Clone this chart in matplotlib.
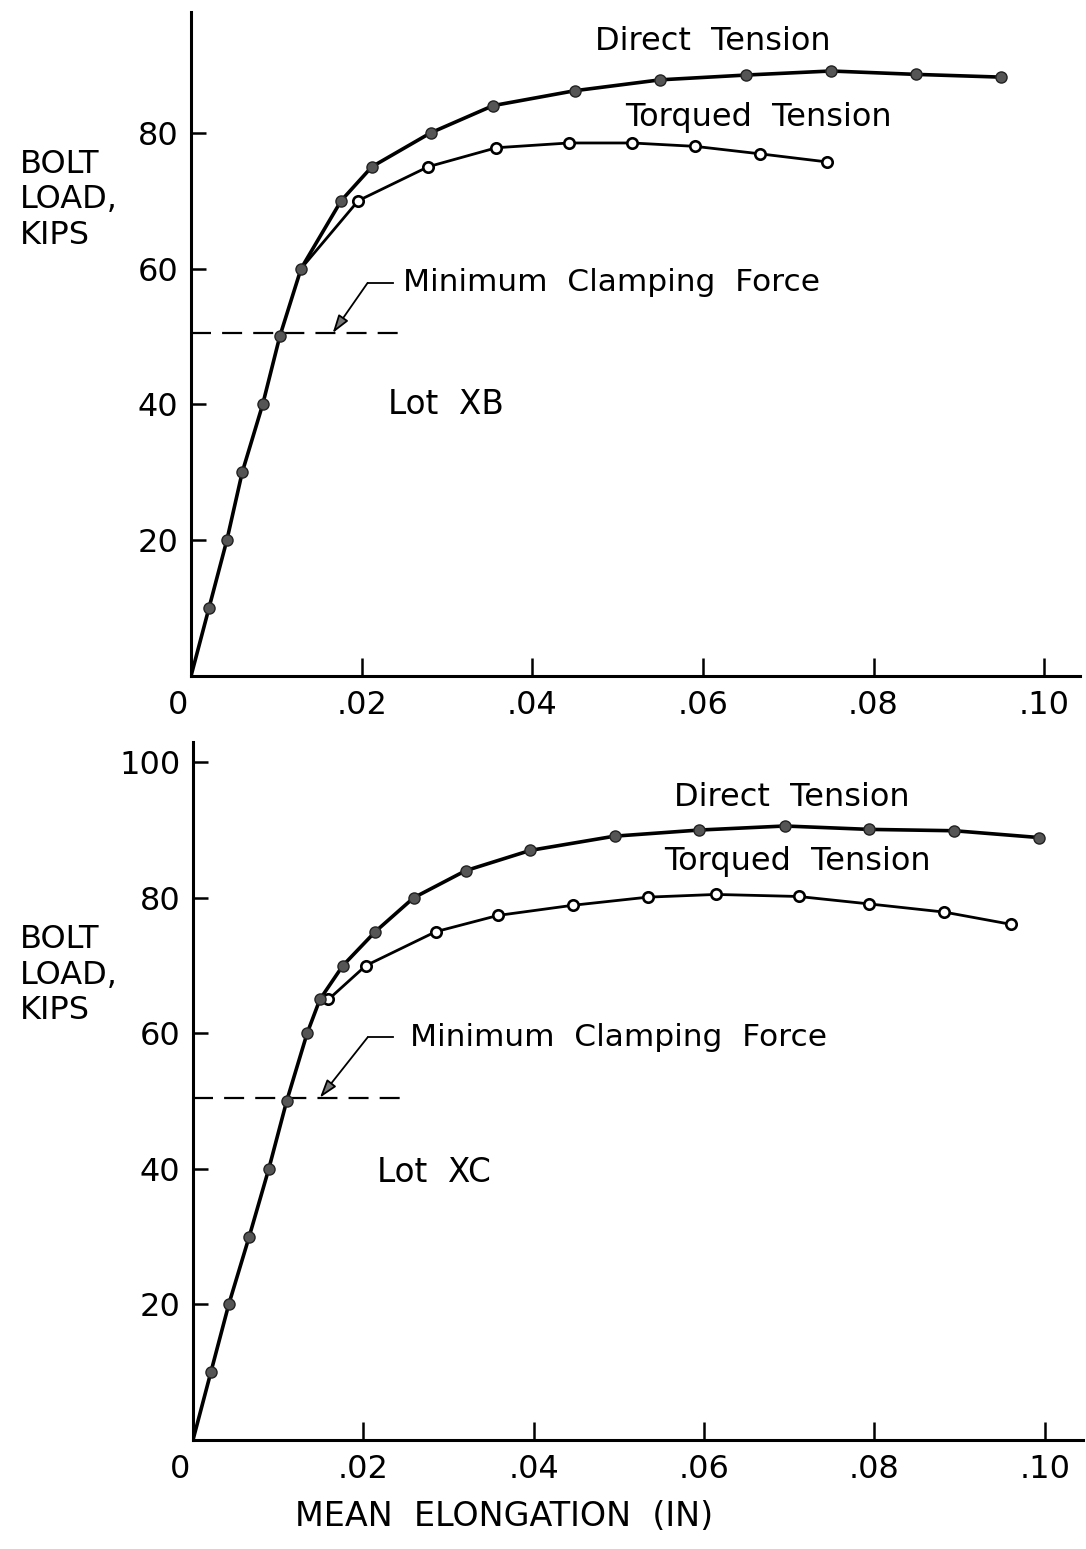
import matplotlib
matplotlib.use('Agg')
import matplotlib.pyplot as plt
import matplotlib.transforms as mtransforms

# Lot XB (top panel)
xb_direct_x = [0, 0.0021, 0.0042, 0.0060, 0.0084, 0.0104, 0.0129, 0.0176, 0.0212, 0.0281, 0.0354,
               0.0450, 0.0550, 0.0650, 0.0750, 0.0850, 0.0949]
xb_direct_y = [0, 10, 20, 30, 40, 50, 60, 70, 75, 80, 84, 86.2, 87.8, 88.5, 89.1, 88.6, 88.2]
# first point is where the torqued curve leaves the direct curve
xb_torqued_x = [0.0129, 0.0196, 0.0278, 0.0358, 0.0443, 0.0517, 0.0591, 0.0667, 0.0746]
xb_torqued_y = [60, 70, 75, 77.8, 78.5, 78.5, 78.0, 76.9, 75.7]

# Lot XC (bottom panel)
xc_direct_x = [0, 0.0021, 0.0042, 0.0066, 0.0089, 0.0110, 0.0134, 0.0149, 0.0176, 0.0214, 0.0259,
               0.0320, 0.0396, 0.0495, 0.0594, 0.0695, 0.0794, 0.0894, 0.0993]
xc_direct_y = [0, 10, 20, 30, 40, 50, 60, 65, 70, 75, 80, 84, 87, 89.1, 90.0, 90.6, 90.1, 89.9, 88.9]
xc_torqued_x = [0.0149, 0.0159, 0.0203, 0.0285, 0.0358, 0.0446, 0.0534, 0.0614, 0.0711, 0.0794,
                0.0882, 0.0960]
xc_torqued_y = [65, 65, 70, 75, 77.4, 78.9, 80.1, 80.5, 80.2, 79.1, 77.9, 76.1]

clamp_force = 50.5
clamp_x_end = 0.025

x_ticks = [0, 0.02, 0.04, 0.06, 0.08, 0.10]
x_ticklabels = ['0', '.02', '.04', '.06', '.08', '.10']

plt.rcParams['font.family'] = 'DejaVu Sans'
fig = plt.figure(figsize=(10.86, 15.49), dpi=100)

ax1 = fig.add_axes([0.1759, 0.5636, 0.8186, 0.4287])
ax2 = fig.add_axes([0.1777, 0.0704, 0.8195, 0.4506])

panels = [
    (ax1, xb_direct_x, xb_direct_y, xb_torqued_x, xb_torqued_y, 'Lot  XB', 0.1042, 97.8, [20, 40, 60, 80],
     (0.0207, 57.9), (0.0166, clamp_force), 0.0248, (0.0612, 93.4), (0.0665, 82.2), (0.0231, 40)),
    (ax2, xc_direct_x, xc_direct_y, xc_torqued_x, xc_torqued_y, 'Lot  XC', 0.1045, 103, [20, 40, 60, 80, 100],
     (0.0205, 59.4), (0.0149, clamp_force), 0.0255, (0.0703, 94.8), (0.0710, 85.3), (0.0216, 39.4)),
]

for (ax, dx, dy, tx, ty, lot, xmax, ymax, yticks, arr_start, arr_tip, text_x,
     dpos, tpos, lpos) in panels:
    ax.plot(dx, dy, color='black', lw=2.6, marker='o', ms=8, mfc='#555555', mec='#222222',
            markevery=list(range(1, len(dx))), zorder=3)
    ax.plot(tx, ty, color='black', lw=2.0, marker='o', ms=7.5, mfc='white', mec='black', mew=1.9,
            markevery=list(range(1, len(tx))), zorder=2)
    ax.plot([0, clamp_x_end], [clamp_force, clamp_force], color='black', lw=1.6,
            dashes=(9, 5), zorder=1)
    # leader to the clamping force line
    ax.plot([arr_start[0], arr_start[0] + 0.003], [arr_start[1], arr_start[1]], color='black', lw=1.3)
    ax.annotate('', xy=arr_tip, xytext=arr_start,
                arrowprops=dict(arrowstyle='-|>,head_length=1.1,head_width=0.35', color='black',
                                lw=1.3, fc='#777777', shrinkA=0, shrinkB=0))
    ax.text(text_x, arr_start[1], 'Minimum  Clamping  Force', fontsize=22.5, va='center', ha='left')
    ax.text(dpos[0], dpos[1], 'Direct  Tension', fontsize=23, va='center', ha='center')
    ax.text(tpos[0], tpos[1], 'Torqued  Tension', fontsize=23, va='center', ha='center')
    ax.text(lpos[0], lpos[1], lot, fontsize=23.5, va='center', ha='left')

    ax.set_xlim(0, xmax)
    ax.set_ylim(0, ymax)
    ax.set_xticks(x_ticks)
    ax.set_xticklabels(x_ticklabels)
    ax.set_yticks(yticks)
    ax.tick_params(axis='both', direction='in', width=1.8, labelsize=23)
    ax.tick_params(axis='x', length=13, pad=10)
    ax.tick_params(axis='y', length=11, pad=9)
    # the "0" sits a little left of the axis in the original
    lab0 = ax.get_xticklabels()[0]
    lab0.set_transform(lab0.get_transform() + mtransforms.ScaledTranslation(-13 / 100, 0, fig.dpi_scale_trans))
    for s in ['top', 'right']:
        ax.spines[s].set_visible(False)
    for s in ['left', 'bottom']:
        ax.spines[s].set_linewidth(2.2)

for ycen in [1 - 200 / 1549, 1 - 975 / 1549]:
    fig.text(20 / 1086, ycen, 'BOLT\nLOAD,\nKIPS', fontsize=23, ha='left', va='center',
             linespacing=1.2)

fig.text(504 / 1086, 1 - 1517 / 1549, 'MEAN  ELONGATION  (IN)', fontsize=24, ha='center', va='center')

fig.savefig('out.png', dpi=100)
